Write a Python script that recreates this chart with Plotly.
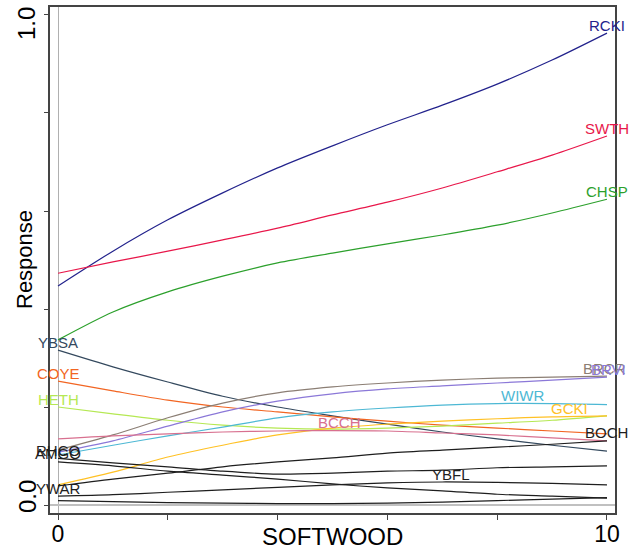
import numpy as np
import plotly.graph_objects as go

softwood = [0, 1, 2, 3, 4, 5, 6, 7, 8, 9, 10]

species = ["RCKI", "SWTH", "CHSP", "YBSA", "COYE", "HETH", "BRCR", "BRVI",
           "WIWR", "GCKI", "BCCH", "BOCH", "RHCO", "AMGO", "YBFL", "YWAR"]

rcki = [0.447, 0.518, 0.582, 0.637, 0.688, 0.733, 0.776, 0.816, 0.859, 0.908, 0.963]
swth = [0.473, 0.496, 0.518, 0.541, 0.565, 0.592, 0.618, 0.647, 0.680, 0.714, 0.753]
chsp = [0.337, 0.394, 0.435, 0.467, 0.494, 0.514, 0.533, 0.551, 0.571, 0.596, 0.624]
ybsa = [0.316, 0.282, 0.251, 0.222, 0.200, 0.182, 0.165, 0.149, 0.135, 0.122, 0.110]
coye = [0.253, 0.233, 0.214, 0.200, 0.190, 0.180, 0.171, 0.163, 0.157, 0.151, 0.145]
heth = [0.200, 0.186, 0.173, 0.163, 0.157, 0.155, 0.157, 0.161, 0.167, 0.173, 0.182]
brcr = [0.112, 0.143, 0.178, 0.208, 0.229, 0.241, 0.249, 0.255, 0.259, 0.261, 0.263]
brvi = [0.108, 0.131, 0.161, 0.190, 0.212, 0.227, 0.237, 0.243, 0.249, 0.255, 0.261]
wiwr = [0.102, 0.122, 0.141, 0.159, 0.178, 0.190, 0.198, 0.204, 0.207, 0.207, 0.205]
gcki = [0.041, 0.067, 0.098, 0.122, 0.143, 0.157, 0.165, 0.171, 0.176, 0.180, 0.182]
bcch = [0.135, 0.141, 0.145, 0.149, 0.151, 0.152, 0.151, 0.147, 0.143, 0.137, 0.131]
boch = [0.039, 0.053, 0.065, 0.078, 0.088, 0.096, 0.106, 0.112, 0.118, 0.124, 0.131]
rhco = [0.095, 0.086, 0.078, 0.069, 0.063, 0.065, 0.069, 0.071, 0.076, 0.078, 0.080]
amgo = [0.088, 0.080, 0.069, 0.061, 0.053, 0.043, 0.035, 0.029, 0.022, 0.018, 0.014]
ybfl = [0.018, 0.021, 0.026, 0.031, 0.036, 0.041, 0.045, 0.047, 0.046, 0.044, 0.041]
ywar = [0.009, 0.007, 0.005, 0.004, 0.003, 0.003, 0.004, 0.006, 0.009, 0.012, 0.015]

series = [rcki, swth, chsp, ybsa, coye, heth, brcr, brvi,
          wiwr, gcki, bcch, boch, rhco, amgo, ybfl, ywar]

# x position (SOFTWOOD) where each species label is written
label_x = [10, 10, 10, 0, 0, 0, 9.95, 10.02, 8.47, 9.32, 5.12, 10, 0, 0, 7.16, 0]

colors = ["#22228c", "#e8174a", "#2ca02c", "#34495e", "#f26522", "#b5e853",
          "#8b7e74", "#8b78d8", "#4db8d4", "#ffc125", "#d8708f", "#1e1e1e",
          "#1e1e1e", "#1e1e1e", "#1e1e1e", "#1e1e1e"]

x_tickvals = [0, 2, 4, 6, 8, 10]
x_ticktext = ["0", "", "", "", "", "10"]
y_tickvals = [0, 0.2, 0.4, 0.6, 0.8, 1.0]
y_labels = ["0.0", "1.0"]

FONT = "Liberation Sans, Arial, sans-serif"

fig = go.Figure()
for name, ys, col in zip(species, series, colors):
    fig.add_trace(go.Scatter(x=softwood, y=ys, mode="lines", name=name,
                             line=dict(color=col, width=1.2, shape="spline", smoothing=0.8),
                             showlegend=False, hoverinfo="skip"))

annotations = []
for name, ys, col, lx in zip(species, series, colors, label_x):
    ly = float(np.interp(lx, softwood, ys))
    shift = 12 if name == "YWAR" else 8
    annotations.append(dict(x=lx, y=ly, xref="x", yref="y", text=name, showarrow=False,
                            xanchor="center", yanchor="middle", yshift=shift,
                            font=dict(family=FONT, size=15, color=col)))

# y tick labels (rotated)
annotations.append(dict(x=0, xref="paper", xshift=-23, y=1.0, yref="y", yshift=-9,
                        text=y_labels[1], textangle=-90, showarrow=False,
                        xanchor="center", yanchor="middle",
                        font=dict(family=FONT, size=24, color="black")))
annotations.append(dict(x=0, xref="paper", xshift=-23, y=0.0, yref="y", yshift=8,
                        text=y_labels[0], textangle=-90, showarrow=False,
                        xanchor="center", yanchor="middle",
                        font=dict(family=FONT, size=24, color="black")))
# axis titles
annotations.append(dict(x=0, xref="paper", xshift=-26, y=0.5, yref="paper",
                        text="Response", textangle=-90, showarrow=False,
                        xanchor="center", yanchor="middle",
                        font=dict(family=FONT, size=22, color="black")))
annotations.append(dict(x=0.5, xref="paper", y=0, yref="paper", yshift=-23,
                        text="SOFTWOOD", showarrow=False,
                        xanchor="center", yanchor="middle",
                        font=dict(family=FONT, size=24, color="black")))

fig.update_layout(
    width=633, height=550,
    margin=dict(l=50, r=18, t=7, b=37),
    paper_bgcolor="white", plot_bgcolor="white",
    annotations=annotations,
    xaxis=dict(range=[-0.146, 10.146], tickvals=x_tickvals, ticktext=x_ticktext,
               ticks="outside", ticklen=5, tickcolor="#444", tickwidth=1,
               ticklabelstandoff=-5,
               showline=True, linecolor="#444", linewidth=1.5, mirror=True,
               showgrid=False, zeroline=True, zerolinecolor="#b0b0b0", zerolinewidth=1,
               automargin=False,
               tickfont=dict(family=FONT, size=23, color="black")),
    yaxis=dict(range=[-0.0163, 1.0163], tickvals=y_tickvals, showticklabels=False,
               ticks="outside", ticklen=4, tickcolor="#444", tickwidth=1,
               showline=True, linecolor="#444", linewidth=1.5, mirror=True,
               automargin=False,
               showgrid=False, zeroline=True, zerolinecolor="#c0c0c0", zerolinewidth=2),
)

fig.write_html("out.html", config={"displayModeBar": False},
               post_script="document.body.style.margin='0';document.body.style.overflow='hidden';")
